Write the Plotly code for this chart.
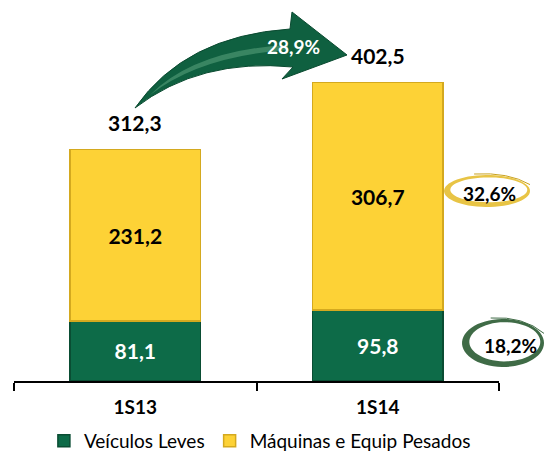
import numpy as np
import plotly.graph_objects as go

categories = ["1S13", "1S14"]
veiculos_leves = [81.1, 95.8]
maquinas_pesados = [231.2, 306.7]
totals = [312.3, 402.5]
growth_total = "28,9%"
growth_maquinas = "32,6%"
growth_leves = "18,2%"

W, H = 544, 452
ML, MR, MT, MB = 14, 45, 10, 71
PW, PH = W - ML - MR, H - MT - MB

def px(x):
    return (x - ML) / PW

def py(y):
    return (H - MB - y) / PH

FONT = "Lato"
GREEN = "#0d6b48"
YELLOW = "#fdd236"

fig = go.Figure()
fig.add_trace(go.Bar(
    x=categories, y=veiculos_leves, name="Veículos Leves",
    marker=dict(color=GREEN, line=dict(color="#0a4d33", width=1.5)),
    texttemplate="%{y:.1f}", textposition="inside", insidetextanchor="middle",
    textangle=0, constraintext="none",
    textfont=dict(family=FONT, size=21, color="white", weight="bold"),
    width=0.54,
))
fig.add_trace(go.Bar(
    x=categories, y=maquinas_pesados, name="Máquinas e Equip Pesados",
    marker=dict(color=YELLOW, line=dict(color="#d4a91f", width=1.5)),
    texttemplate="%{y:.1f}", textposition="inside", insidetextanchor="middle",
    textangle=0, constraintext="none",
    textfont=dict(family=FONT, size=21, color="black", weight="bold"),
    width=0.54,
))

annotations = []
for c, t in zip(categories, totals):
    annotations.append(dict(
        x=c, y=t, xref="x", yref="y", text=f"{t:.1f}".replace(".", ","),
        showarrow=False, yanchor="bottom", yshift=12,
        font=dict(family=FONT, size=21, color="black", weight="bold"),
    ))

shapes = []

def P(x, y):
    return f"{px(x):.5f},{py(y):.5f}"

# curved growth arrow
arrow = ("M " + P(135, 108) + " Q " + P(185, 36) + " " + P(290, 29)
         + " L " + P(292, 12) + " L " + P(347, 55) + " L " + P(282, 79)
         + " L " + P(293, 67) + " Q " + P(200, 58) + " " + P(135, 108) + " Z")
shapes.append(dict(type="path", xref="paper", yref="paper", path=arrow,
                   fillcolor="#0f6040", line=dict(color="#0a4a30", width=1)))
highlight = ("M " + P(150, 95) + " Q " + P(195, 50) + " " + P(288, 45)
             + " L " + P(288, 50) + " Q " + P(200, 56) + " " + P(150, 95) + " Z")
shapes.append(dict(type="path", xref="paper", yref="paper", path=highlight,
                   fillcolor="rgba(120,190,150,0.40)", line=dict(width=0)))
annotations.append(dict(x=px(293), y=py(47), xref="paper", yref="paper",
                        xanchor="center", yanchor="middle",
                        text=growth_total, showarrow=False,
                        font=dict(family=FONT, size=19, color="white", weight="bold")))

def ring(cx, cy, rx, ry, t_out, color, dark):
    th = np.linspace(0, 2 * np.pi, 60)
    outer = [(cx + rx * np.cos(a), cy + ry * np.sin(a)) for a in th]
    inner = [(cx + 1.8 + (rx - t_out) * np.cos(a), cy - 1.2 + (ry - t_out * 0.8) * np.sin(a)) for a in th[::-1]]
    d = "M " + " L ".join(P(x, y) for x, y in outer) + " Z M " + " L ".join(P(x, y) for x, y in inner) + " Z"
    shapes.append(dict(type="path", xref="paper", yref="paper", path=d,
                       fillcolor=color, fillrule="evenodd", line=dict(width=0)))
    tail = "M " + P(cx - rx * 0.3, cy - ry - 1) + " Q " + P(cx + rx * 0.5, cy - ry - 3) + " " + P(cx + rx * 1.0, cy - ry * 0.4)
    shapes.append(dict(type="path", xref="paper", yref="paper", path=tail,
                       line=dict(color=dark, width=1)))

ring(487, 191, 43, 16, 4.5, "#e8c445", "#c9a21e")
ring(503, 343, 41, 24, 5.5, "#3f6b46", "#3f6b46")
annotations.append(dict(x=px(489), y=py(193), xref="paper", yref="paper", text=growth_maquinas,
                        xanchor="center", yanchor="middle",
                        showarrow=False, font=dict(family=FONT, size=19, color="black", weight="bold")))
annotations.append(dict(x=px(511), y=py(345), xref="paper", yref="paper", text=growth_leves,
                        xanchor="center", yanchor="middle",
                        showarrow=False, font=dict(family=FONT, size=19, color="black", weight="bold")))

fig.update_layout(
    barmode="stack", width=W, height=H,
    margin=dict(l=ML, r=MR, t=MT, b=MB, autoexpand=False),
    paper_bgcolor="white", plot_bgcolor="white",
    separators=",.",
    showlegend=True,
    legend=dict(orientation="h", x=0.507, xanchor="center", y=py(441), yanchor="middle",
                font=dict(family=FONT, size=19, color="black"), traceorder="normal"),
    xaxis=dict(range=[-0.5, 1.5], showline=True, linecolor="black", linewidth=1.5,
               ticks="outside", tickson="boundaries", ticklen=8, tickwidth=1.5, tickcolor="black",
               tickfont=dict(family=FONT, size=19, color="black", weight="bold"),
               ticklabelstandoff=8, showgrid=False, zeroline=False, fixedrange=True),
    yaxis=dict(range=[0, 500], visible=False, fixedrange=True),
    annotations=annotations, shapes=shapes,
    font=dict(family=FONT),
)
fig.write_html("out.html")
